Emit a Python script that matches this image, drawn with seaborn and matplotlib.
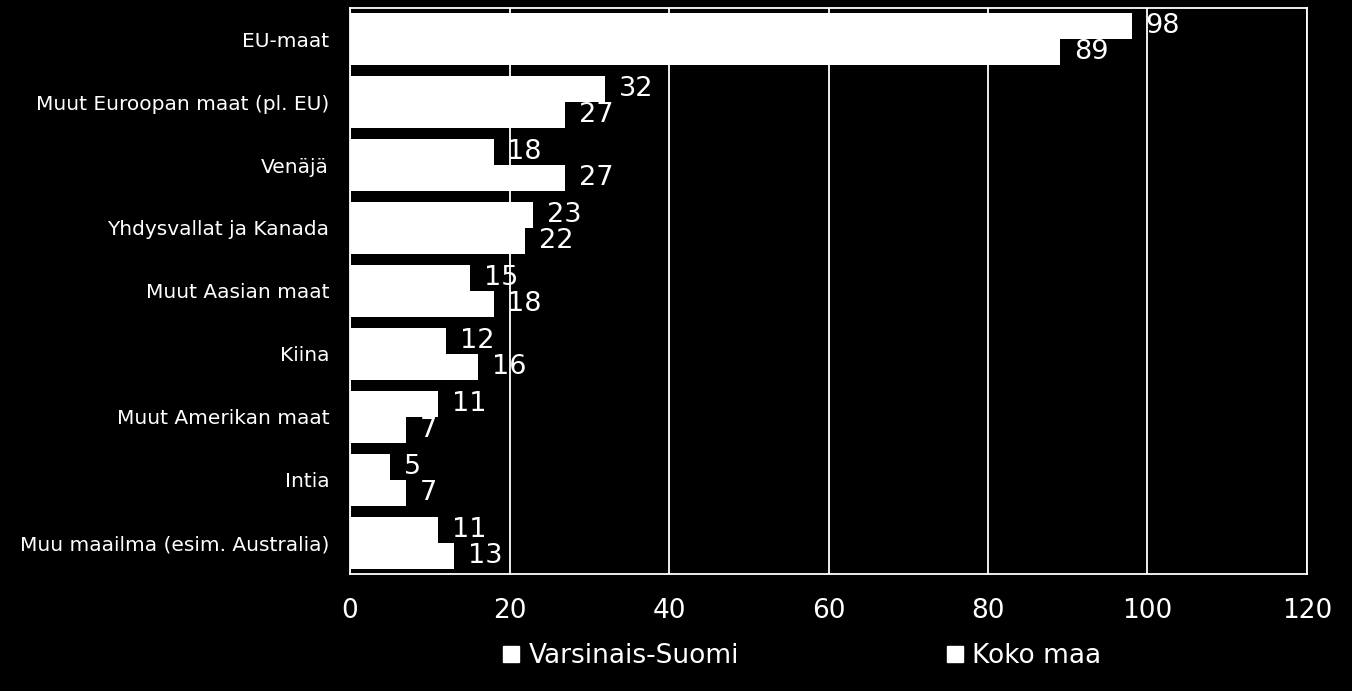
import matplotlib
matplotlib.use("Agg")
import matplotlib.pyplot as plt
from matplotlib.lines import Line2D
import seaborn as sns
import pandas as pd

categories = ["EU-maat", "Muut Euroopan maat (pl. EU)", "Venäjä", "Yhdysvallat ja Kanada",
              "Muut Aasian maat", "Kiina", "Muut Amerikan maat", "Intia",
              "Muu maailma (esim. Australia)"]
series_names = ["Varsinais-Suomi", "Koko maa"]
varsinais_suomi = [98, 32, 18, 23, 15, 12, 11, 5, 11]
koko_maa = [89, 27, 27, 22, 18, 16, 7, 7, 13]
x_ticks = [0, 20, 40, 60, 80, 100, 120]

df = pd.DataFrame({
    "category": categories * 2,
    "series": [series_names[0]] * len(categories) + [series_names[1]] * len(categories),
    "value": varsinais_suomi + koko_maa,
})

sns.set_style("white")
plt.rcParams["font.family"] = ["DejaVu Sans"]

fig = plt.figure(figsize=(13.52, 6.91), dpi=100, facecolor="black")
ax = fig.add_axes([0.2589, 0.1693, 0.7078, 0.8195])
ax.set_facecolor("black")

sns.barplot(data=df, y="category", x="value", hue="series", orient="h",
            palette=["white", "white"], width=0.825, linewidth=0, edgecolor="none",
            saturation=1, ax=ax, legend=False, zorder=3)

ax.set_xlim(0, 120)
ax.set_ylim(len(categories) - 0.5, -0.5)
ax.set_xticks(x_ticks)
ax.set_xticklabels([str(t) for t in x_ticks], fontsize=19, color="white")
ax.tick_params(axis="x", length=0, pad=17)
ax.tick_params(axis="y", length=0, pad=15, labelsize=14.5, labelcolor="white")
ax.set_xlabel("")
ax.set_ylabel("")
ax.grid(axis="x", color="white", linewidth=1.3, zorder=0)
ax.grid(axis="y", visible=False)
for s in ax.spines.values():
    s.set_color("white")
    s.set_linewidth(1.3)
    s.set_visible(True)

for container in ax.containers:
    ax.bar_label(container, labels=[f"{v:g}" for v in container.datavalues],
                 padding=10, color="white", fontsize=19.5)

handles = [Line2D([0], [0], marker="s", linestyle="none", markersize=12,
                  markerfacecolor="white", markeredgecolor="white") for _ in series_names]
leg = fig.legend(handles, series_names, loc="center", bbox_to_anchor=(0.5935, 0.05),
                 ncol=2, frameon=False, fontsize=19, handlelength=0.6, handletextpad=0.35,
                 columnspacing=7.9, labelcolor="white")

fig.savefig("out.png", dpi=100, facecolor="black")
